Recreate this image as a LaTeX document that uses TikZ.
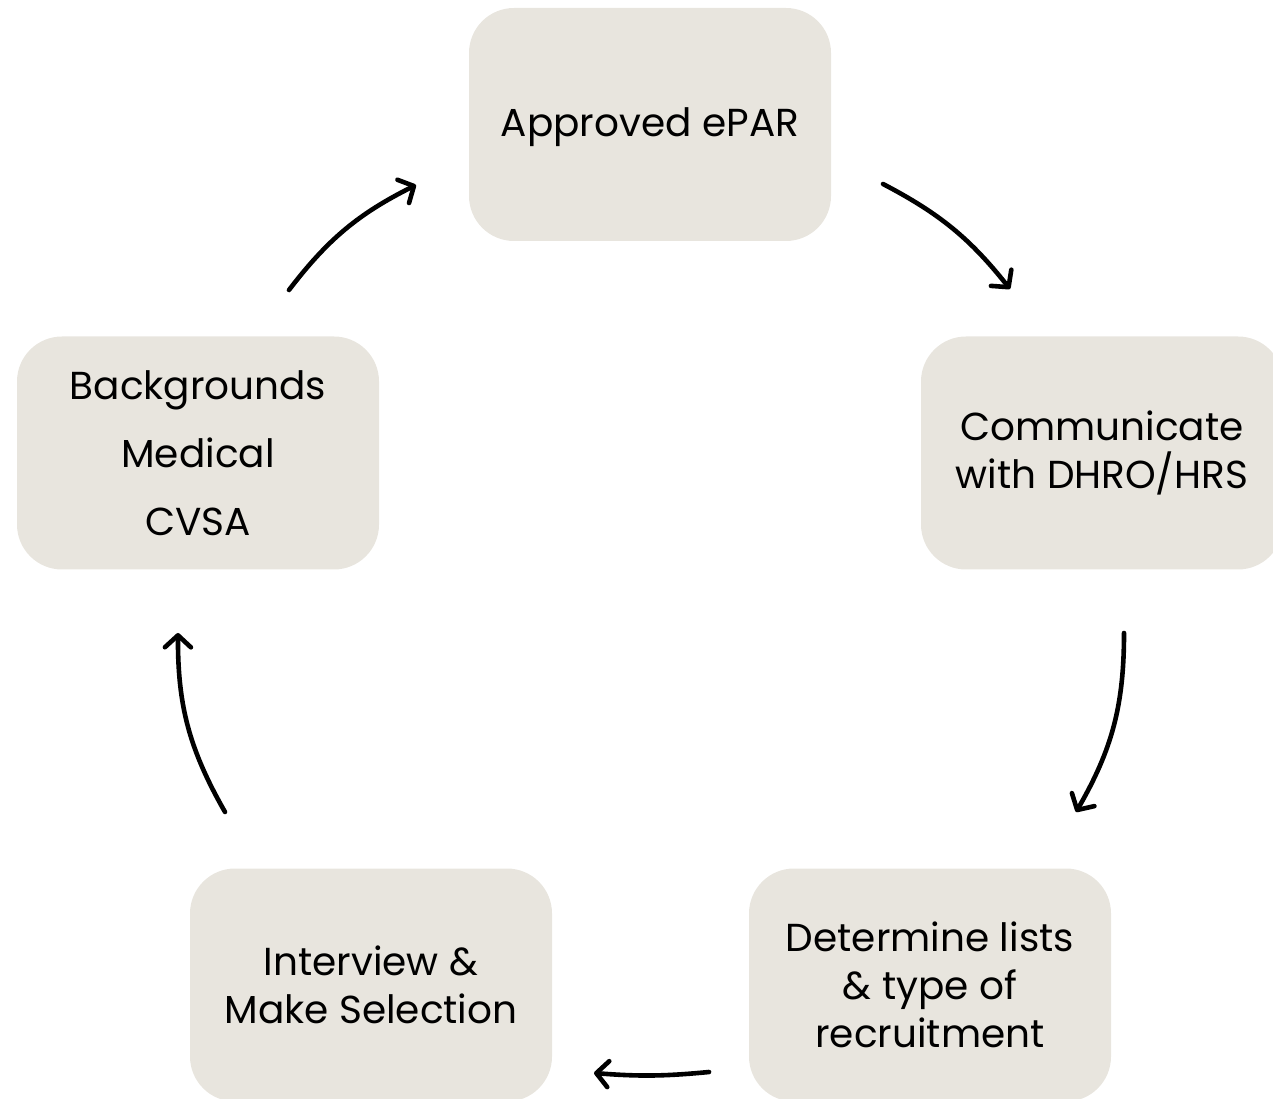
\documentclass[tikz,border=0pt]{standalone}
\usepackage{fontspec}
\setmainfont{Poppins}
\usetikzlibrary{arrows.meta}
\definecolor{boxfill}{HTML}{E8E5DE}
\tikzset{
  stepbox/.style={fill=boxfill, rounded corners=45pt, minimum width=362pt, minimum height=233pt,
    inner sep=0pt, align=center, font=\fontsize{39}{48}\selectfont, text=black},
  flow/.style={line width=4.6pt, line cap=round, -{Straight Barb[length=12pt,width=26pt,line width=4.6pt,round]}}
}
\begin{document}
\begin{tikzpicture}[x=1pt,y=1pt]
\useasboundingbox (0,0) rectangle (1273,1098);
\begin{scope}
\clip (0,0) rectangle (1273,1098);
\node[stepbox] (epar) at (650,973.5) {};
\node at ([yshift=-3pt]epar.center) [font=\fontsize{39}{48}\selectfont] (epart) {Approved ePAR};
\node[stepbox] (comm) at (1102,645) {Communicate\\with DHRO/HRS};
\node[stepbox] (lists) at (930,113) {Determine lists\\\& type of\\recruitment};
\node[stepbox] (inter) at (371,113) {Interview \&\\Make Selection};
\node[stepbox, font=\fontsize{39}{68}\selectfont] (bg) at (198,645) {Backgrounds\\Medical\\CVSA};
\end{scope}
\coordinate (a1s) at (289,808); \coordinate (a1e) at (416,913);
\coordinate (a2s) at (883,914); \coordinate (a2e) at (1010,809);
\coordinate (a3s) at (1124,465); \coordinate (a3e) at (1076,286);
\coordinate (a4s) at (709,26);  \coordinate (a4e) at (594,25);
\coordinate (a5s) at (225,286); \coordinate (a5e) at (178,465);
\draw[flow] (a1s) to[bend left=13] (a1e);
\draw[flow] (a2s) to[bend left=12] (a2e);
\draw[flow] (a3s) to[bend left=15] (a3e);
\draw[flow] (a4s) to[bend left=5] (a4e);
\draw[flow] (a5s) to[bend left=15] (a5e);
\end{tikzpicture}
\end{document}
